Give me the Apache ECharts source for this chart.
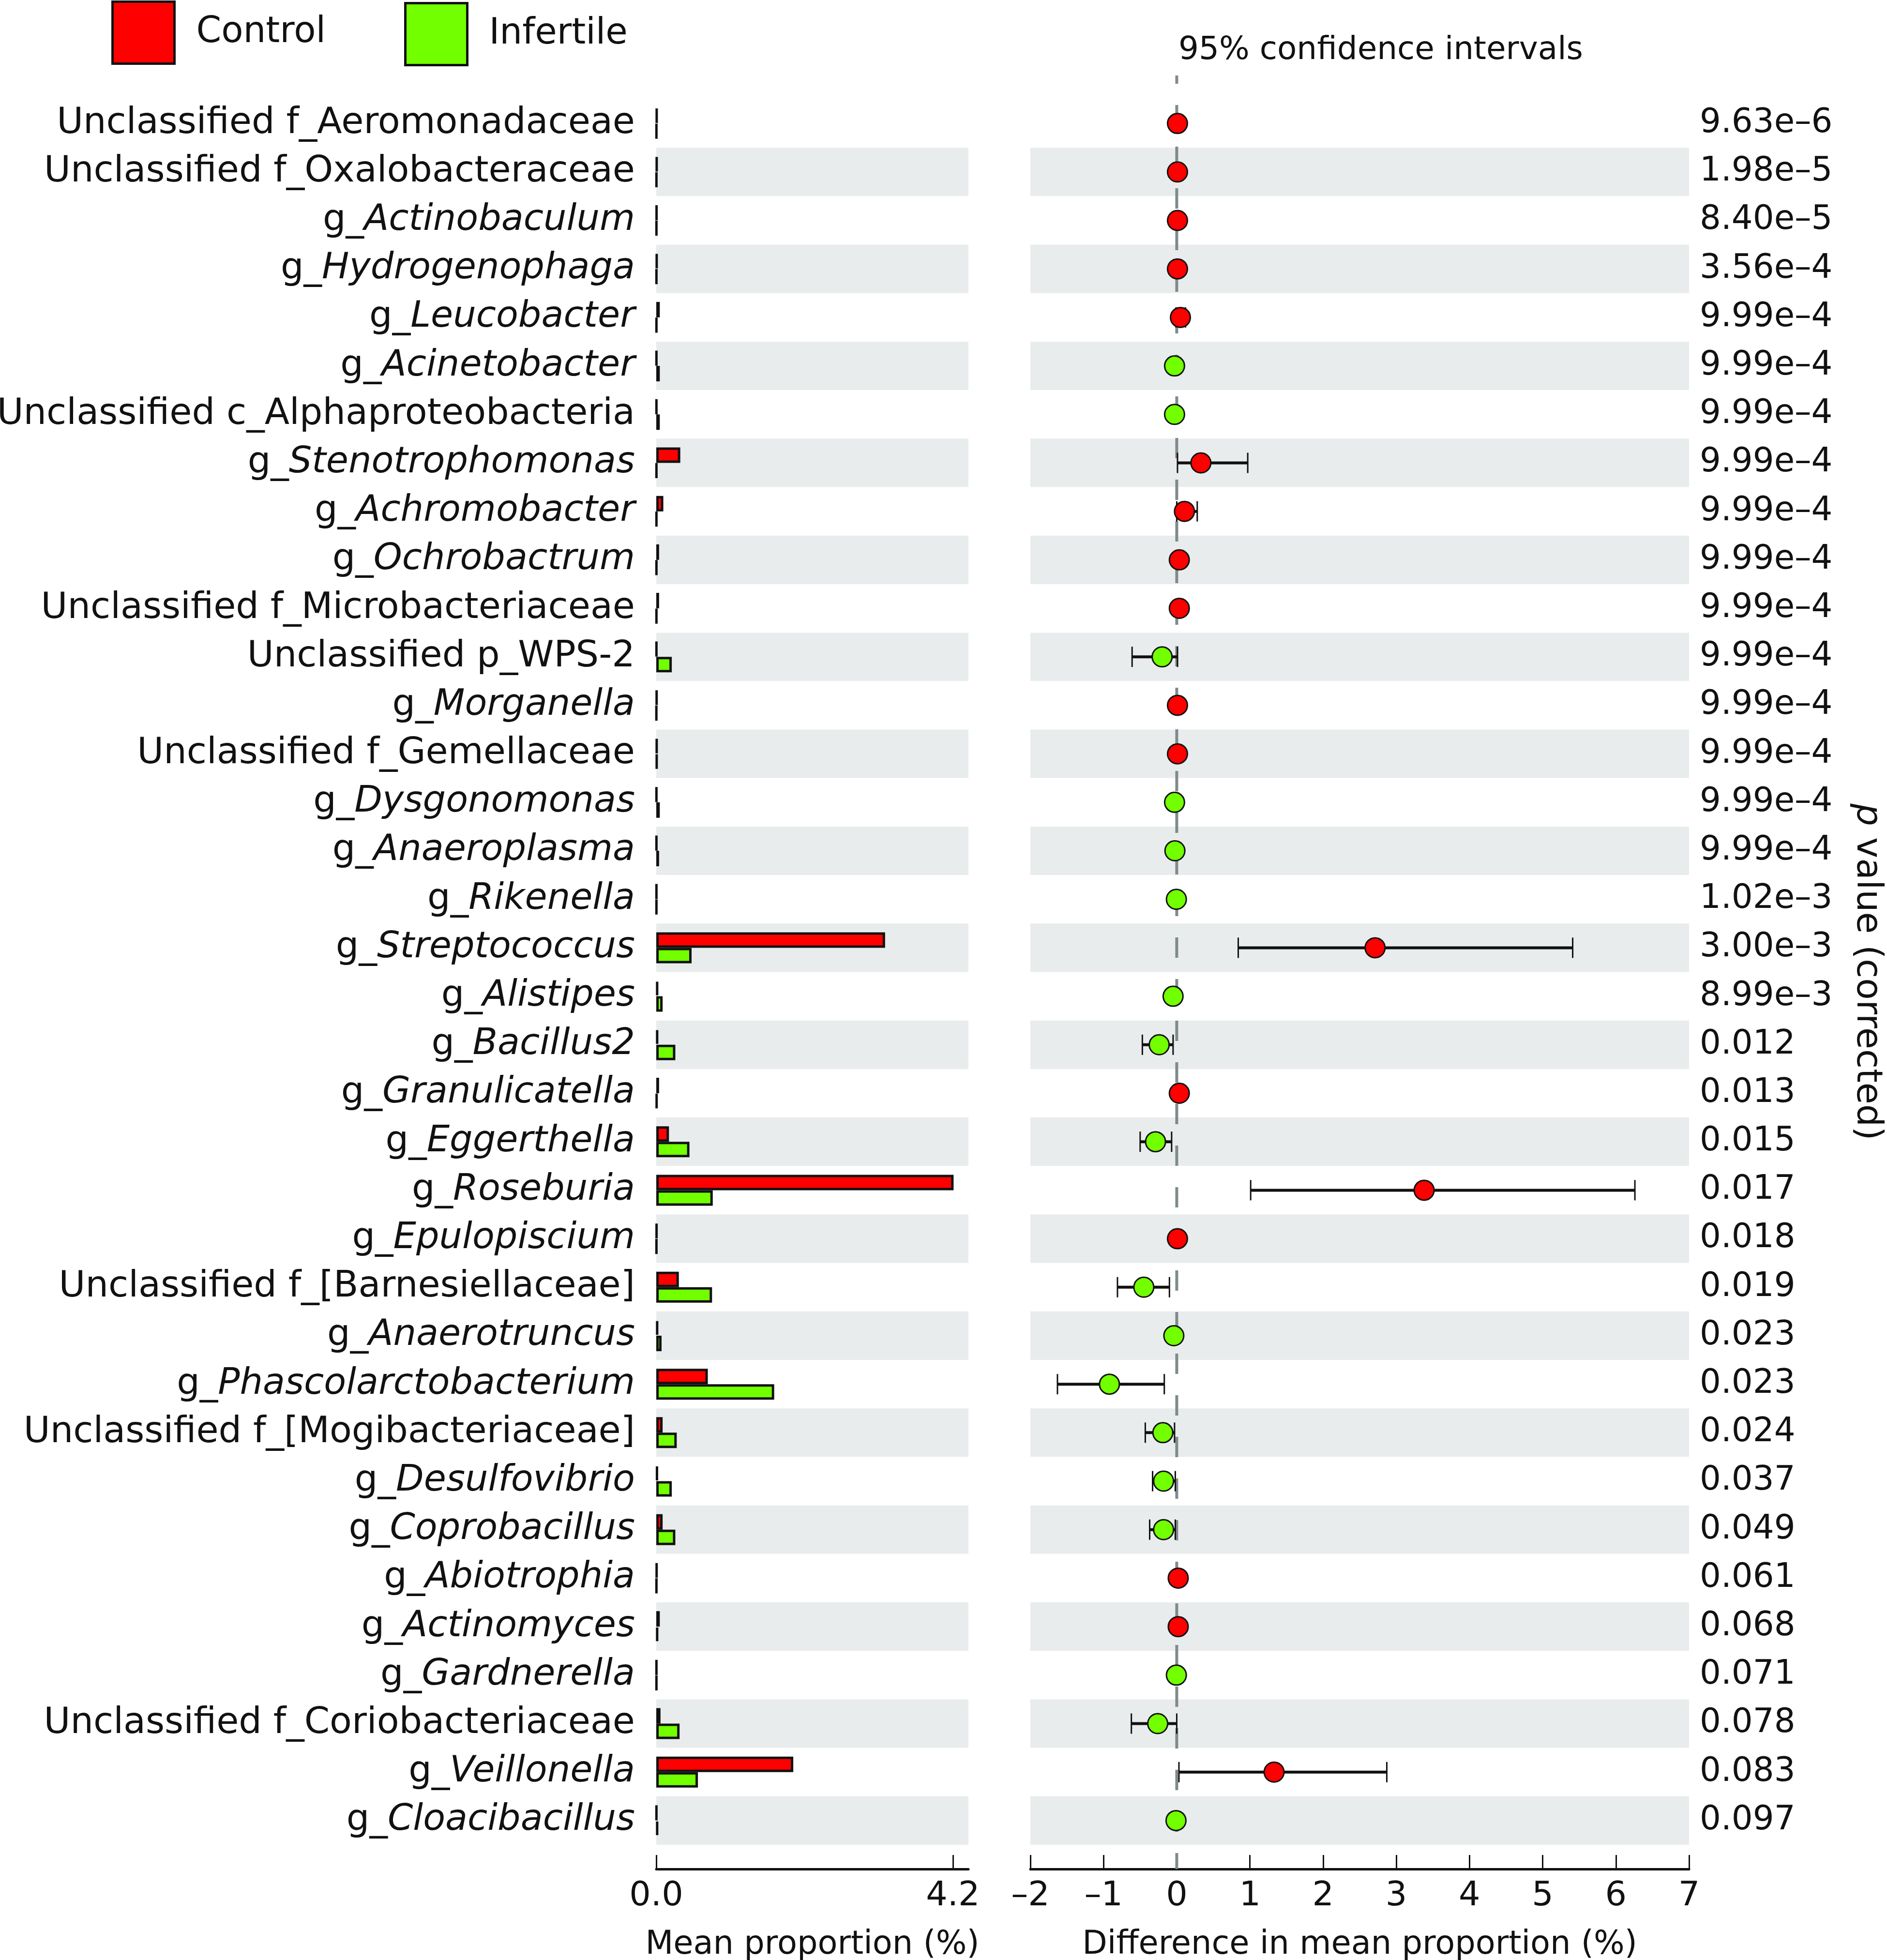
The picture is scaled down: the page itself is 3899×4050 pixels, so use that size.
<!DOCTYPE html>
<html>
<head>
<meta charset="utf-8">
<script src="https://cdn.jsdelivr.net/npm/echarts@6/dist/echarts.min.js"></script>
<style>
  html, body { margin: 0; padding: 0; background: #ffffff; }
  #chart { width: 3899px; height: 4050px; }
</style>
</head>
<body>
<div id="chart"></div>
<script>
// ---------- data ----------
const categories = [
  'Unclassified f_Aeromonadaceae',
  'Unclassified f_Oxalobacteraceae',
  'g_Actinobaculum',
  'g_Hydrogenophaga',
  'g_Leucobacter',
  'g_Acinetobacter',
  'Unclassified c_Alphaproteobacteria',
  'g_Stenotrophomonas',
  'g_Achromobacter',
  'g_Ochrobactrum',
  'Unclassified f_Microbacteriaceae',
  'Unclassified p_WPS-2',
  'g_Morganella',
  'Unclassified f_Gemellaceae',
  'g_Dysgonomonas',
  'g_Anaeroplasma',
  'g_Rikenella',
  'g_Streptococcus',
  'g_Alistipes',
  'g_Bacillus2',
  'g_Granulicatella',
  'g_Eggerthella',
  'g_Roseburia',
  'g_Epulopiscium',
  'Unclassified f_[Barnesiellaceae]',
  'g_Anaerotruncus',
  'g_Phascolarctobacterium',
  'Unclassified f_[Mogibacteriaceae]',
  'g_Desulfovibrio',
  'g_Coprobacillus',
  'g_Abiotrophia',
  'g_Actinomyces',
  'g_Gardnerella',
  'Unclassified f_Coriobacteriaceae',
  'g_Veillonella',
  'g_Cloacibacillus'
];

const pValues = [
  '9.63e–6', '1.98e–5', '8.40e–5', '3.56e–4',
  '9.99e–4', '9.99e–4', '9.99e–4', '9.99e–4', '9.99e–4', '9.99e–4',
  '9.99e–4', '9.99e–4', '9.99e–4', '9.99e–4', '9.99e–4', '9.99e–4',
  '1.02e–3', '3.00e–3', '8.99e–3',
  '0.012', '0.013', '0.015', '0.017', '0.018', '0.019', '0.023', '0.023',
  '0.024', '0.037', '0.049', '0.061', '0.068', '0.071', '0.078', '0.083', '0.097'
];

// mean proportion (%)
const controlMean = [
  0.012, 0.012, 0.008, 0.012, 0.05, 0.005, 0.005, 0.34, 0.10, 0.04,
  0.04, 0.005, 0.01, 0.012, 0.005, 0.005, 0.005, 3.24, 0.025, 0.025,
  0.04, 0.18, 4.21, 0.008, 0.32, 0.025, 0.73, 0.09, 0.02, 0.09,
  0.01, 0.05, 0.005, 0.06, 1.94, 0.005
];
const infertileMean = [
  0.005, 0.005, 0.005, 0.005, 0.005, 0.05, 0.05, 0.005, 0.005, 0.005,
  0.005, 0.22, 0.003, 0.012, 0.05, 0.04, 0.005, 0.50, 0.09, 0.27,
  0.01, 0.47, 0.80, 0.005, 0.79, 0.075, 1.67, 0.29, 0.22, 0.27,
  0.005, 0.025, 0.005, 0.33, 0.59, 0.025
];

// difference in mean proportion (%) and 95% CI
const diffMean = [
  0.01, 0.01, 0.01, 0.01, 0.05, -0.03, -0.03, 0.33, 0.105, 0.035,
  0.035, -0.20, 0.01, 0.01, -0.03, -0.025, -0.005, 2.71, -0.05, -0.24,
  0.035, -0.29, 3.38, 0.01, -0.45, -0.04, -0.92, -0.19, -0.18, -0.18,
  0.02, 0.02, -0.005, -0.26, 1.33, -0.01
];
const ciLow = [
  0.0, 0.0, 0.0, 0.0, -0.01, -0.07, -0.07, 0.01, 0.0, 0.01,
  0.01, -0.61, 0.0, 0.0, -0.06, -0.05, -0.01, 0.84, -0.08, -0.47,
  0.01, -0.50, 1.01, 0.0, -0.81, -0.07, -1.63, -0.43, -0.33, -0.37,
  0.0, 0.0, -0.01, -0.62, 0.03, -0.02
];
const ciHigh = [
  0.02, 0.02, 0.02, 0.02, 0.12, 0.01, 0.01, 0.97, 0.28, 0.06,
  0.06, 0.01, 0.02, 0.02, 0.0, 0.0, 0.0, 5.41, -0.02, -0.05,
  0.06, -0.07, 6.26, 0.02, -0.10, -0.01, -0.17, -0.03, -0.02, -0.02,
  0.04, 0.04, 0.0, 0.0, 2.87, 0.0
];

const meanTicks = [0, 4.2];
const zeroLineX = 0;

// ---------- styles ----------
const FONT = 'DejaVu Sans';
const RED = '#ff0000';
const GREEN = '#72ff00';
const BAND = '#e9ecec';
const INK = '#111111';

const chart = echarts.init(document.getElementById('chart'), null, { renderer: 'canvas' });

const labelFormatter = function (name) {
  if (name.indexOf('g_') === 0) {
    return '{n|g_}{i|' + name.slice(2) + '}';
  }
  return '{n|' + name + '}';
};

const option = {
  backgroundColor: '#ffffff',
  animation: false,
  textStyle: { fontFamily: FONT, color: INK },
  title: {
    text: '95% confidence intervals',
    left: 2435,
    top: 72,
    padding: 0,
    textStyle: { fontFamily: FONT, fontSize: 66, fontWeight: 'normal', color: INK }
  },
  legend: [
    {
      data: ['Control'], left: 230, top: 1, padding: 0,
      icon: 'rect', itemWidth: 128, itemHeight: 128,
      itemStyle: { borderColor: INK, borderWidth: 5 },
      textStyle: { fontFamily: FONT, fontSize: 74, color: INK, padding: [0, 0, 0, 40] },
      selectedMode: false
    },
    {
      data: ['Infertile'], left: 835, top: 4, padding: 0,
      icon: 'rect', itemWidth: 128, itemHeight: 128,
      itemStyle: { borderColor: INK, borderWidth: 5 },
      textStyle: { fontFamily: FONT, fontSize: 74, color: INK, padding: [24, 0, 0, 40] },
      selectedMode: false
    }
  ],
  grid: [
    { left: 1356, top: 205, width: 645, height: 3607, containLabel: false, outerBoundsMode: 'none' },
    { left: 2129, top: 205, width: 1361, height: 3607, containLabel: false, outerBoundsMode: 'none' },
    { left: 2129, top: 156, width: 1361, height: 3706, containLabel: false, outerBoundsMode: 'none' }
  ],
  xAxis: [
    {
      gridIndex: 0, type: 'value', min: 0, max: 4.42,
      offset: 50,
      axisLine: { show: true, onZero: false, lineStyle: { color: INK, width: 5 } },
      axisTick: { show: true, inside: true, length: 29, customValues: meanTicks, lineStyle: { color: INK, width: 3 } },
      axisLabel: {
        show: true, customValues: meanTicks, margin: 22,
        fontFamily: FONT, fontSize: 70, color: INK,
        formatter: function (v) { return Number(v).toFixed(1); }
      },
      splitLine: { show: false },
      name: 'Mean proportion (%)', nameLocation: 'middle', nameGap: 124,
      nameTextStyle: { fontFamily: FONT, fontSize: 67, color: INK }
    },
    {
      gridIndex: 1, type: 'value', min: -2, max: 7, interval: 1,
      offset: 50,
      axisLine: { show: true, onZero: false, lineStyle: { color: INK, width: 5 } },
      axisTick: { show: true, inside: true, length: 29, lineStyle: { color: INK, width: 3 } },
      axisLabel: {
        show: true, margin: 22, fontFamily: FONT, fontSize: 70, color: INK,
        formatter: function (v) { return String(v).replace('-', '–'); }
      },
      splitLine: { show: false },
      name: 'Difference in mean proportion (%)', nameLocation: 'middle', nameGap: 124,
      nameTextStyle: { fontFamily: FONT, fontSize: 67, color: INK }
    },
    {
      gridIndex: 2, type: 'value', min: -2, max: 7, show: false
    }
  ],
  yAxis: [
    {
      gridIndex: 0, type: 'category', data: categories, inverse: true,
      axisLine: { show: false }, axisTick: { show: false },
      axisLabel: {
        show: true, interval: 0, margin: 44, align: 'right',
        fontFamily: FONT, fontSize: 75, color: INK,
        formatter: labelFormatter,
        rich: {
          n: { fontFamily: FONT, fontSize: 75, color: INK },
          i: { fontFamily: FONT, fontSize: 75, color: INK, fontStyle: 'italic' }
        }
      },
      splitLine: { show: false },
      splitArea: { show: true, interval: 0, areaStyle: { color: ['#ffffff', BAND] } }
    },
    {
      gridIndex: 1, type: 'category', data: categories, inverse: true,
      axisLine: { show: false }, axisTick: { show: false },
      axisLabel: { show: false, interval: 0 },
      splitLine: { show: false },
      splitArea: { show: true, interval: 0, areaStyle: { color: ['#ffffff', BAND] } }
    },
    {
      gridIndex: 1, type: 'category', data: pValues, inverse: true, position: 'right',
      axisLine: { show: false }, axisTick: { show: false },
      axisLabel: {
        show: true, interval: 0, margin: 22, align: 'left',
        fontFamily: FONT, fontSize: 69, color: INK
      },
      splitLine: { show: false }, splitArea: { show: false },
      name: '{i|p} value (corrected)', nameLocation: 'middle', nameRotate: -90, nameGap: 330,
      nameTextStyle: {
        fontFamily: FONT, fontSize: 73, color: INK,
        rich: {
          i: { fontFamily: FONT, fontSize: 73, color: INK, fontStyle: 'italic' }
        }
      }
    },
    {
      gridIndex: 2, type: 'value', min: 0, max: 1, show: false
    }
  ],
  series: [
    {
      name: 'Control', type: 'bar', xAxisIndex: 0, yAxisIndex: 0,
      data: controlMean, barWidth: 32, barGap: '0%',
      itemStyle: { color: RED, borderColor: INK, borderWidth: 5 },
      z: 3
    },
    {
      name: 'Infertile', type: 'bar', xAxisIndex: 0, yAxisIndex: 0,
      data: infertileMean, barWidth: 32, barGap: '0%',
      itemStyle: { color: GREEN, borderColor: INK, borderWidth: 5 },
      z: 4
    },
    {
      type: 'line', xAxisIndex: 2, yAxisIndex: 3,
      data: [[zeroLineX, 1], [zeroLineX, 0]],
      symbol: 'none', silent: true, z: 1,
      lineStyle: { color: '#7f8a8a', width: 6, type: [42, 44], dashOffset: 25 }
    },
    {
      type: 'custom', xAxisIndex: 1, yAxisIndex: 1, z: 3, silent: true,
      data: categories.map(function (c, i) { return [ciLow[i], i, ciHigh[i]]; }),
      encode: { x: [0, 2], y: 1 },
      renderItem: function (params, api) {
        const lo = api.value(0), idx = api.value(1), hi = api.value(2);
        const p1 = api.coord([lo, idx]);
        const p2 = api.coord([hi, idx]);
        const h = 21;
        return {
          type: 'group',
          children: [
            { type: 'line', shape: { x1: p1[0], y1: p1[1], x2: p2[0], y2: p2[1] }, style: { stroke: INK, lineWidth: 6 } },
            { type: 'line', shape: { x1: p1[0], y1: p1[1] - h, x2: p1[0], y2: p1[1] + h }, style: { stroke: INK, lineWidth: 3 } },
            { type: 'line', shape: { x1: p2[0], y1: p2[1] - h, x2: p2[0], y2: p2[1] + h }, style: { stroke: INK, lineWidth: 3 } }
          ]
        };
      }
    },
    {
      type: 'scatter', xAxisIndex: 1, yAxisIndex: 1, z: 10, silent: true,
      symbol: 'circle', symbolSize: 41,
      data: categories.map(function (c, i) { return [diffMean[i], i]; }),
      itemStyle: {
        opacity: 1,
        borderColor: INK, borderWidth: 3,
        color: function (p) { return diffMean[p.dataIndex] > 0 ? RED : GREEN; }
      }
    }
  ]
};

chart.setOption(option);
</script>
</body>
</html>
